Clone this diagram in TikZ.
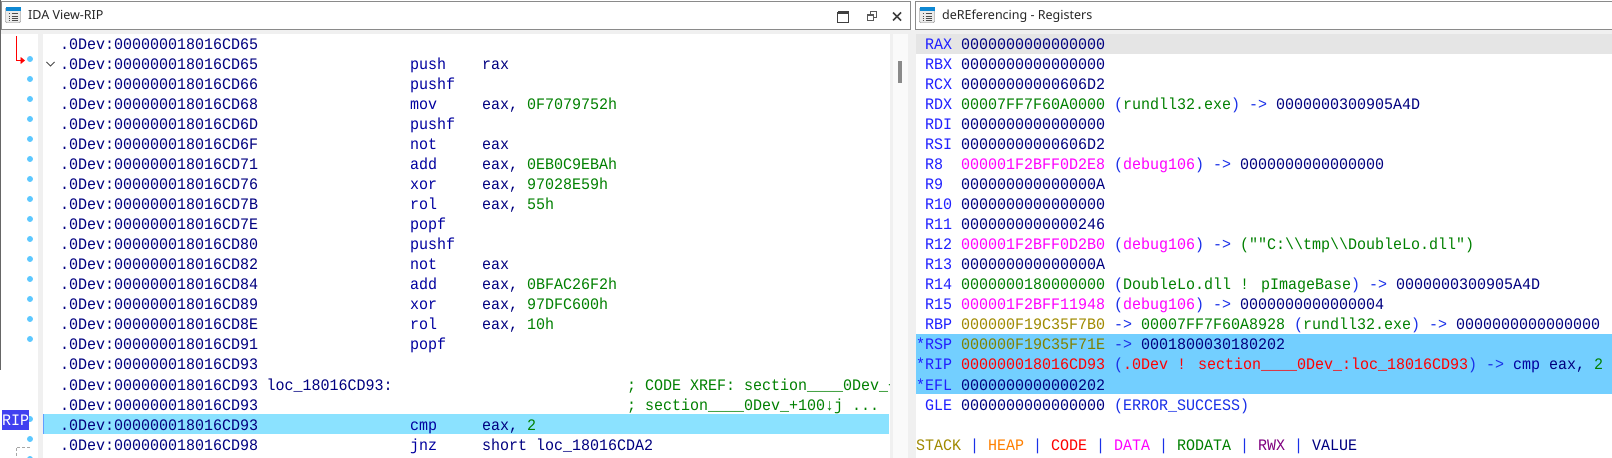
\documentclass[tikz,border=0pt]{standalone}
\usepackage{fontspec}
\setmainfont{Noto Sans}
\newfontfamily\codef[FakeStretch=0.9375]{Liberation Mono}
\usetikzlibrary{arrows.meta}
\definecolor{navy}{HTML}{000080}
\definecolor{insn}{HTML}{0000A0}
\definecolor{grn}{HTML}{008000}
\definecolor{reg}{HTML}{2020FF}
\definecolor{mag}{HTML}{FF00FF}
\definecolor{oliv}{HTML}{808000}
\definecolor{stk}{HTML}{A08A00}
\definecolor{hp}{HTML}{FF8000}
\definecolor{rwx}{HTML}{800080}
\definecolor{par}{HTML}{1A30E8}
\definecolor{hl}{HTML}{8BE2FF}
\definecolor{sel}{HTML}{73CFFF}
\definecolor{bar}{HTML}{F0F0F0}
\definecolor{dot}{HTML}{5CC8FF}
\definecolor{ripbox}{HTML}{4040F0}
\definecolor{frame}{HTML}{8A8A8A}
\tikzset{
 code/.style={anchor=base west,inner sep=0pt,outer sep=0pt,font=\codef\fontsize{16.06}{16}\selectfont,text=navy},
 insnt/.style={code,text=insn},
 cmt/.style={code,text=grn},
 title/.style={anchor=base west,inner sep=0pt,font=\fontsize{12.55}{14}\selectfont,text=black!85},
 breakdot/.style={circle,fill=dot,inner sep=0pt,minimum size=6pt},
 tbar/.style={draw=frame,fill=white,line width=1pt},
}
\newcommand{\R}[1]{\textcolor{reg}{#1}}
\newcommand{\Pa}[1]{\textcolor{par}{#1}}
\newcommand{\G}[1]{\textcolor{grn}{#1}}
\newcommand{\M}[1]{\textcolor{mag}{#1}}
\newcommand{\Ol}[1]{\textcolor{stk}{#1}}
\newcommand{\RR}[1]{\textcolor{red}{#1}}
\newcommand{\Ar}{\textcolor{par}{->}}
\begin{document}
\begin{tikzpicture}[x=1bp,y=-1bp]
\useasboundingbox (0,0) rectangle (1612,458);
\fill[white] (0,0) rectangle (1612,458);
% panels
\fill[bar] (0,30) rectangle (1612,34);
\fill[bar] (38,34) rectangle (43,458);
\fill[bar] (890,34) rectangle (916,458);
\fill[white!70!bar] (893,34) rectangle (908,458);
\fill[frame] (898,61) rectangle (902,83);
\draw[tbar] (1.5,1.5) rectangle (910.5,30);
\draw[tbar] (915.5,1.5) rectangle (1613,30);
\fill[black!60] (0,0) rectangle (0.8,370);
% title icons
\foreach \ix in {5.5,919.5}{
 \draw[black!55,fill=black!8,rounded corners=1pt] (\ix,8) rectangle (\ix+15,22.5);
 \fill[cyan!70!blue] (\ix,7.5) rectangle (\ix+15,11);
 \foreach \yy in {13.5,16,18.5,20.5}{\draw[black!70,line width=0.8pt] (\ix+3,\yy)--(\ix+4.5,\yy) (\ix+6,\yy)--(\ix+12,\yy);}
}
\node[title] (t1) at (28,20) {IDA View-RIP};
\node[title] (t2) at (942,20) {deREferencing - Registers};
% window buttons
\draw[black!75,line width=1pt] (837.5,12.5) rectangle (848.5,22.5);
\fill[black!75] (837.5,11) rectangle (848.5,14);
\draw[black!65,line width=1pt] (867.5,14.5) rectangle (873.5,20.5);
\fill[black!65] (867,14) rectangle (874,16);
\draw[black!65,line width=1pt] (870.5,14) -- (870.5,11.5) -- (876.5,11.5) -- (876.5,17.5) -- (874,17.5);
\draw[black!75,line width=1.5pt] (893,12.5) -- (901,20.5) (901,12.5) -- (893,20.5);
% gutter
\draw[red,line width=0.9pt,-{Triangle[length=4.5pt,width=7pt]}] (16,36) -- (16,60.5) -- (25,60.5);
\foreach \yy in {59,79,...,339,419,439,459}{\node[breakdot] at (30,\yy) {};}
\draw[black!70,line width=1pt] (46.5,62) -- (50.5,66) -- (54.5,62);
\node[draw=none,fill=ripbox,anchor=north west,minimum width=27bp,minimum height=20bp,inner sep=0pt,text=white,font=\codef\fontsize{16.06}{16}\selectfont] (rip) at (2,410) {RIP};
\draw[black!35,densely dashed,line width=0.8pt] (30,447) -- (16,447) -- (16,458);
% highlights
\fill[hl] (43,414) rectangle (889,434);
\draw[hl!70!blue] (43.5,414) -- (43.5,434);
\fill[black!10] (916,34) rectangle (1612,54);
\fill[sel] (916,334) rectangle (1612,394);
% listing
\foreach \n/\ad in {0/65,1/65,2/66,3/68,4/6D,5/6F,6/71,7/76,8/7B,9/7E,10/80,11/82,12/84,13/89,14/8E,15/91,16/93,17/93,18/93,19/93,20/98}{
 \node[code] (addr\n) at (60,{50+20*\n}) {.0Dev:000000018016CD\ad};
}
\foreach \n/\m/\o in {1/push/rax,2/pushf/,3/mov/{eax, \G{0F7079752h}},4/pushf/,5/not/eax,6/add/{eax, \G{0EB0C9EBAh}},7/xor/{eax, \G{97028E59h}},8/rol/{eax, \G{55h}},9/popf/,10/pushf/,11/not/eax,12/add/{eax, \G{0BFAC26F2h}},13/xor/{eax, \G{97DFC600h}},14/rol/{eax, \G{10h}},15/popf/,19/cmp/{eax, \G{2}},20/jnz/{short loc\_18016CDA2}}{
 \node[insnt] (ins\n) at (410,{50+20*\n}) {\m};
 \node[code] (op\n) at (482,{50+20*\n}) {\o};
}
\node[code] (lbl) at (266.5,390) {loc\_18016CD93:};
\begin{scope}
\clip (600,370) rectangle (889,420);
\node[cmt] (x1) at (627,390) {; CODE XREF: section\_\_\_\_0Dev\_+};
\node[cmt] (x2) at (627,410) {; section\_\_\_\_0Dev\_+100↓j ...};
\end{scope}
% registers
\node[code] (r0) at (925,50) {\R{RAX} 0000000000000000};
\node[code] (r1) at (925,70) {\R{RBX} 0000000000000000};
\node[code] (r2) at (925,90) {\R{RCX} 00000000000606D2};
\node[code] (r3) at (925,110) {\R{RDX} \G{00007FF7F60A0000} \Pa{(}\G{rundll32.exe}\Pa{)} \Ar{} 0000000300905A4D};
\node[code] (r4) at (925,130) {\R{RDI} 0000000000000000};
\node[code] (r5) at (925,150) {\R{RSI} 00000000000606D2};
\node[code] (r6) at (925,170) {\R{R8}\ \ \M{000001F2BFF0D2E8} \Pa{(}\M{debug106}\Pa{)} \Ar{} 0000000000000000};
\node[code] (r7) at (925,190) {\R{R9}\ \ 000000000000000A};
\node[code] (r8) at (925,210) {\R{R10} 0000000000000000};
\node[code] (r9) at (925,230) {\R{R11} 0000000000000246};
\node[code] (r10) at (925,250) {\R{R12} \M{000001F2BFF0D2B0} \Pa{(}\M{debug106}\Pa{)} \Ar{} \G{(""C:\textbackslash\textbackslash tmp\textbackslash\textbackslash DoubleLo.dll")}};
\node[code] (r11) at (925,270) {\R{R13} 000000000000000A};
\node[code] (r12) at (925,290) {\R{R14} \G{0000000180000000} \Pa{(}\G{DoubleLo.dll ! pImageBase}\Pa{)} \Ar{} 0000000300905A4D};
\node[code] (r13) at (925,310) {\R{R15} \M{000001F2BFF11948} \Pa{(}\M{debug106}\Pa{)} \Ar{} 0000000000000004};
\node[code] (r14) at (925,330) {\R{RBP} \Ol{000000F19C35F7B0} \Ar{} \G{00007FF7F60A8928} \Pa{(}\G{rundll32.exe}\Pa{)} \Ar{} 0000000000000000};
\node[code] (r15) at (916,350) {\R{*RSP} \textcolor{oliv}{000000F19C35F71E} \Ar{} 0001800030180202};
\node[code] (r16) at (916,370) {\R{*RIP} \RR{000000018016CD93} \Pa{(}\RR{.0Dev ! section\_\_\_\_0Dev\_:loc\_18016CD93}\Pa{)} \Ar{} \textcolor{insn}{cmp} eax, \G{2}};
\node[code] (r17) at (916,390) {\R{*EFL} 0000000000000202};
\node[code] (r18) at (925,410) {\R{GLE} 0000000000000000 \Pa{(}\textcolor{par}{ERROR\_SUCCESS}\Pa{)}};
\node[code] (leg) at (916,450) {\textcolor{stk}{STACK} \Pa{|} \textcolor{hp}{HEAP} \Pa{|} \RR{CODE} \Pa{|} \M{DATA} \Pa{|} \G{RODATA} \Pa{|} \textcolor{rwx}{RWX} \Pa{|} VALUE};
\end{tikzpicture}
\end{document}
